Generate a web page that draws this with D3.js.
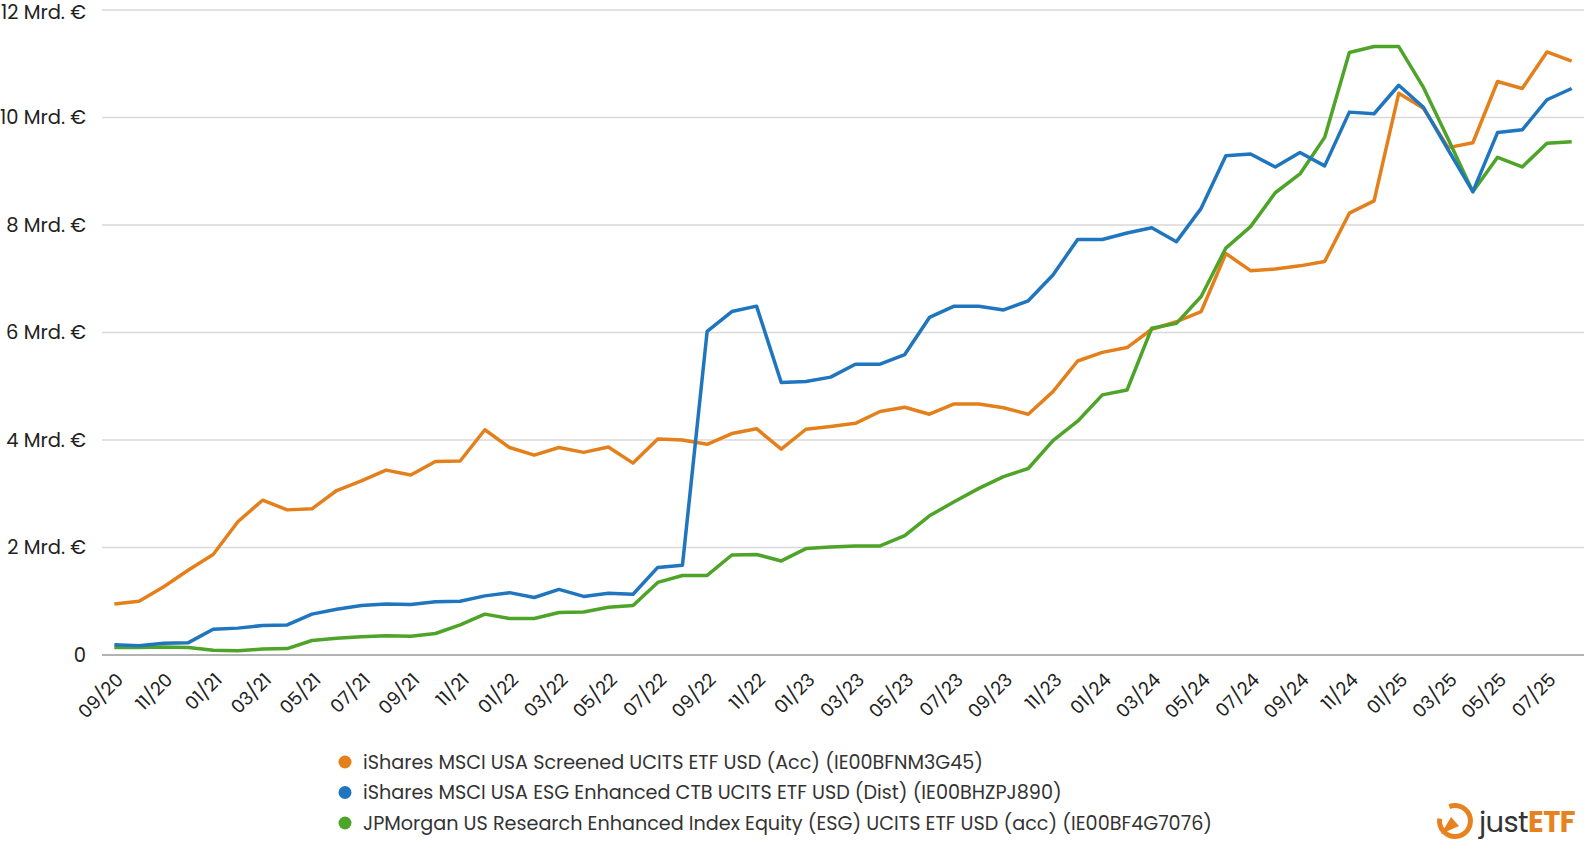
<!DOCTYPE html>
<html>
<head>
<meta charset="utf-8">
<script src="https://cdn.jsdelivr.net/npm/d3@7"></script>
<style>
  body { margin: 0; background: #fff; }
  svg { font-family: Poppins, Inter, "Noto Sans", sans-serif; }
</style>
</head>
<body>
<div id="chart"></div>
<script>
// months, 09/20 .. 08/25
var months = ["09/20","10/20","11/20","12/20",
  "01/21","02/21","03/21","04/21","05/21","06/21","07/21","08/21","09/21","10/21","11/21","12/21",
  "01/22","02/22","03/22","04/22","05/22","06/22","07/22","08/22","09/22","10/22","11/22","12/22",
  "01/23","02/23","03/23","04/23","05/23","06/23","07/23","08/23","09/23","10/23","11/23","12/23",
  "01/24","02/24","03/24","04/24","05/24","06/24","07/24","08/24","09/24","10/24","11/24","12/24",
  "01/25","02/25","03/25","04/25","05/25","06/25","07/25","08/25"];

// fund volume in Mrd. EUR
var screened = [0.95,1.00,1.27,1.58,1.87,2.48,2.88,2.70,2.72,3.06,3.24,3.44,3.35,3.60,3.61,4.19,
  3.86,3.72,3.86,3.77,3.87,3.57,4.02,4.00,3.92,4.12,4.21,3.83,
  4.20,4.25,4.31,4.53,4.61,4.48,4.67,4.67,4.60,4.48,4.90,5.47,
  5.63,5.72,6.06,6.20,6.39,7.47,7.15,7.18,7.24,7.32,8.22,8.45,
  10.45,10.17,9.44,9.53,10.67,10.54,11.22,11.05];
var esgEnhanced = [0.19,0.17,0.22,0.23,0.48,0.50,0.55,0.56,0.76,0.85,0.92,0.95,0.94,0.99,1.00,1.10,
  1.16,1.07,1.22,1.09,1.15,1.13,1.63,1.67,6.02,6.39,6.49,5.07,
  5.09,5.17,5.41,5.41,5.59,6.28,6.49,6.49,6.42,6.59,7.07,7.73,
  7.73,7.85,7.95,7.69,8.31,9.29,9.32,9.08,9.35,9.10,10.10,10.07,
  10.60,10.19,9.40,8.62,9.72,9.77,10.33,10.54];
var jpmEsg = [0.14,0.14,0.15,0.14,0.09,0.08,0.11,0.12,0.27,0.31,0.34,0.36,0.35,0.40,0.56,0.76,
  0.68,0.68,0.79,0.80,0.89,0.92,1.35,1.48,1.48,1.86,1.87,1.75,
  1.98,2.01,2.03,2.03,2.22,2.59,2.85,3.10,3.32,3.47,3.99,4.35,
  4.84,4.93,6.08,6.17,6.67,7.57,7.97,8.60,8.95,9.63,11.21,11.32,
  11.32,10.56,9.60,8.62,9.26,9.08,9.52,9.55];

var seriesNames = [
  "iShares MSCI USA Screened UCITS ETF USD (Acc) (IE00BFNM3G45)",
  "iShares MSCI USA ESG Enhanced CTB UCITS ETF USD (Dist) (IE00BHZPJ890)",
  "JPMorgan US Research Enhanced Index Equity (ESG) UCITS ETF USD (acc) (IE00BF4G7076)"
];
var seriesColors = ["#e4801c", "#1f76bf", "#4ea428"];
var yTicks = [0, 2, 4, 6, 8, 10, 12];

var W = 1588, H = 843;
var svg = d3.select("#chart").append("svg")
  .attr("width", W).attr("height", H);

var x = d3.scalePoint().domain(months).range([102, 1584]).padding(0.5);
var y = d3.scaleLinear().domain([0, 12]).range([655, 10]);

// gridlines + y labels
var yAxisG = svg.append("g");
yAxisG.selectAll("line").data(yTicks).join("line")
  .attr("x1", 102).attr("x2", 1584)
  .attr("y1", d => y(d)).attr("y2", d => y(d))
  .attr("stroke", d => d == 0 ? "#9a9a9a" : "#d9d9d9")
  .attr("stroke-width", d => d == 0 ? 1.6 : 1.3);
yAxisG.selectAll("text").data(yTicks).join("text")
  .attr("x", 86).attr("y", d => y(d) + (d == 12 ? 2 : 0))
  .attr("dy", "0.35em")
  .attr("text-anchor", "end")
  .attr("font-size", 19.5)
  .attr("fill", "#222")
  .text(d => d == 0 ? "0" : d + " Mrd. €");

// x labels, every second month
var xAxisG = svg.append("g");
xAxisG.selectAll("text").data(months.filter((d, i) => i % 2 == 0)).join("text")
  .attr("transform", d => "translate(" + (x(d) + 10) + ",681) rotate(-45)")
  .attr("text-anchor", "end")
  .attr("font-size", 18.5)
  .attr("fill", "#222")
  .text(d => d);

// lines
var allSeries = [screened, esgEnhanced, jpmEsg];
var line = d3.line()
  .x((d, i) => x(months[i]))
  .y(d => y(d));
svg.append("g").selectAll("path").data([0, 2, 1]).join("path")
  .attr("d", k => line(allSeries[k]))
  .attr("fill", "none")
  .attr("stroke", k => seriesColors[k])
  .attr("stroke-width", 3.5)
  .attr("stroke-linejoin", "round");

// legend
var legend = svg.append("g").selectAll("g").data(seriesNames).join("g")
  .attr("transform", (d, i) => "translate(345," + (762 + i * 30.5) + ")");
legend.append("circle").attr("r", 6.5).attr("fill", (d, i) => seriesColors[i]);
legend.append("text")
  .attr("x", 18).attr("dy", "0.35em")
  .attr("font-size", 19.2)
  .attr("fill", "#333")
  .text(d => d);

// justETF logo
var logo = svg.append("g").attr("transform", "translate(1455,821)");
logo.append("path")
  .attr("d", d3.arc().innerRadius(13).outerRadius(18).startAngle(-0.12 * Math.PI).endAngle(1.55 * Math.PI)())
  .attr("fill", "#e8821e");
logo.append("path")
  .attr("d", "M-14,13 L-4,-4 L4,5 Z")
  .attr("fill", "#e8821e");
var logoText = svg.append("text")
  .attr("x", 1479).attr("y", 832)
  .attr("font-size", 29)
  .attr("letter-spacing", -0.6);
logoText.append("tspan").attr("fill", "#333").attr("font-weight", 400).text("just");
logoText.append("tspan").attr("fill", "#e8821e").attr("font-weight", 700).text("ETF");
</script>
</body>
</html>
